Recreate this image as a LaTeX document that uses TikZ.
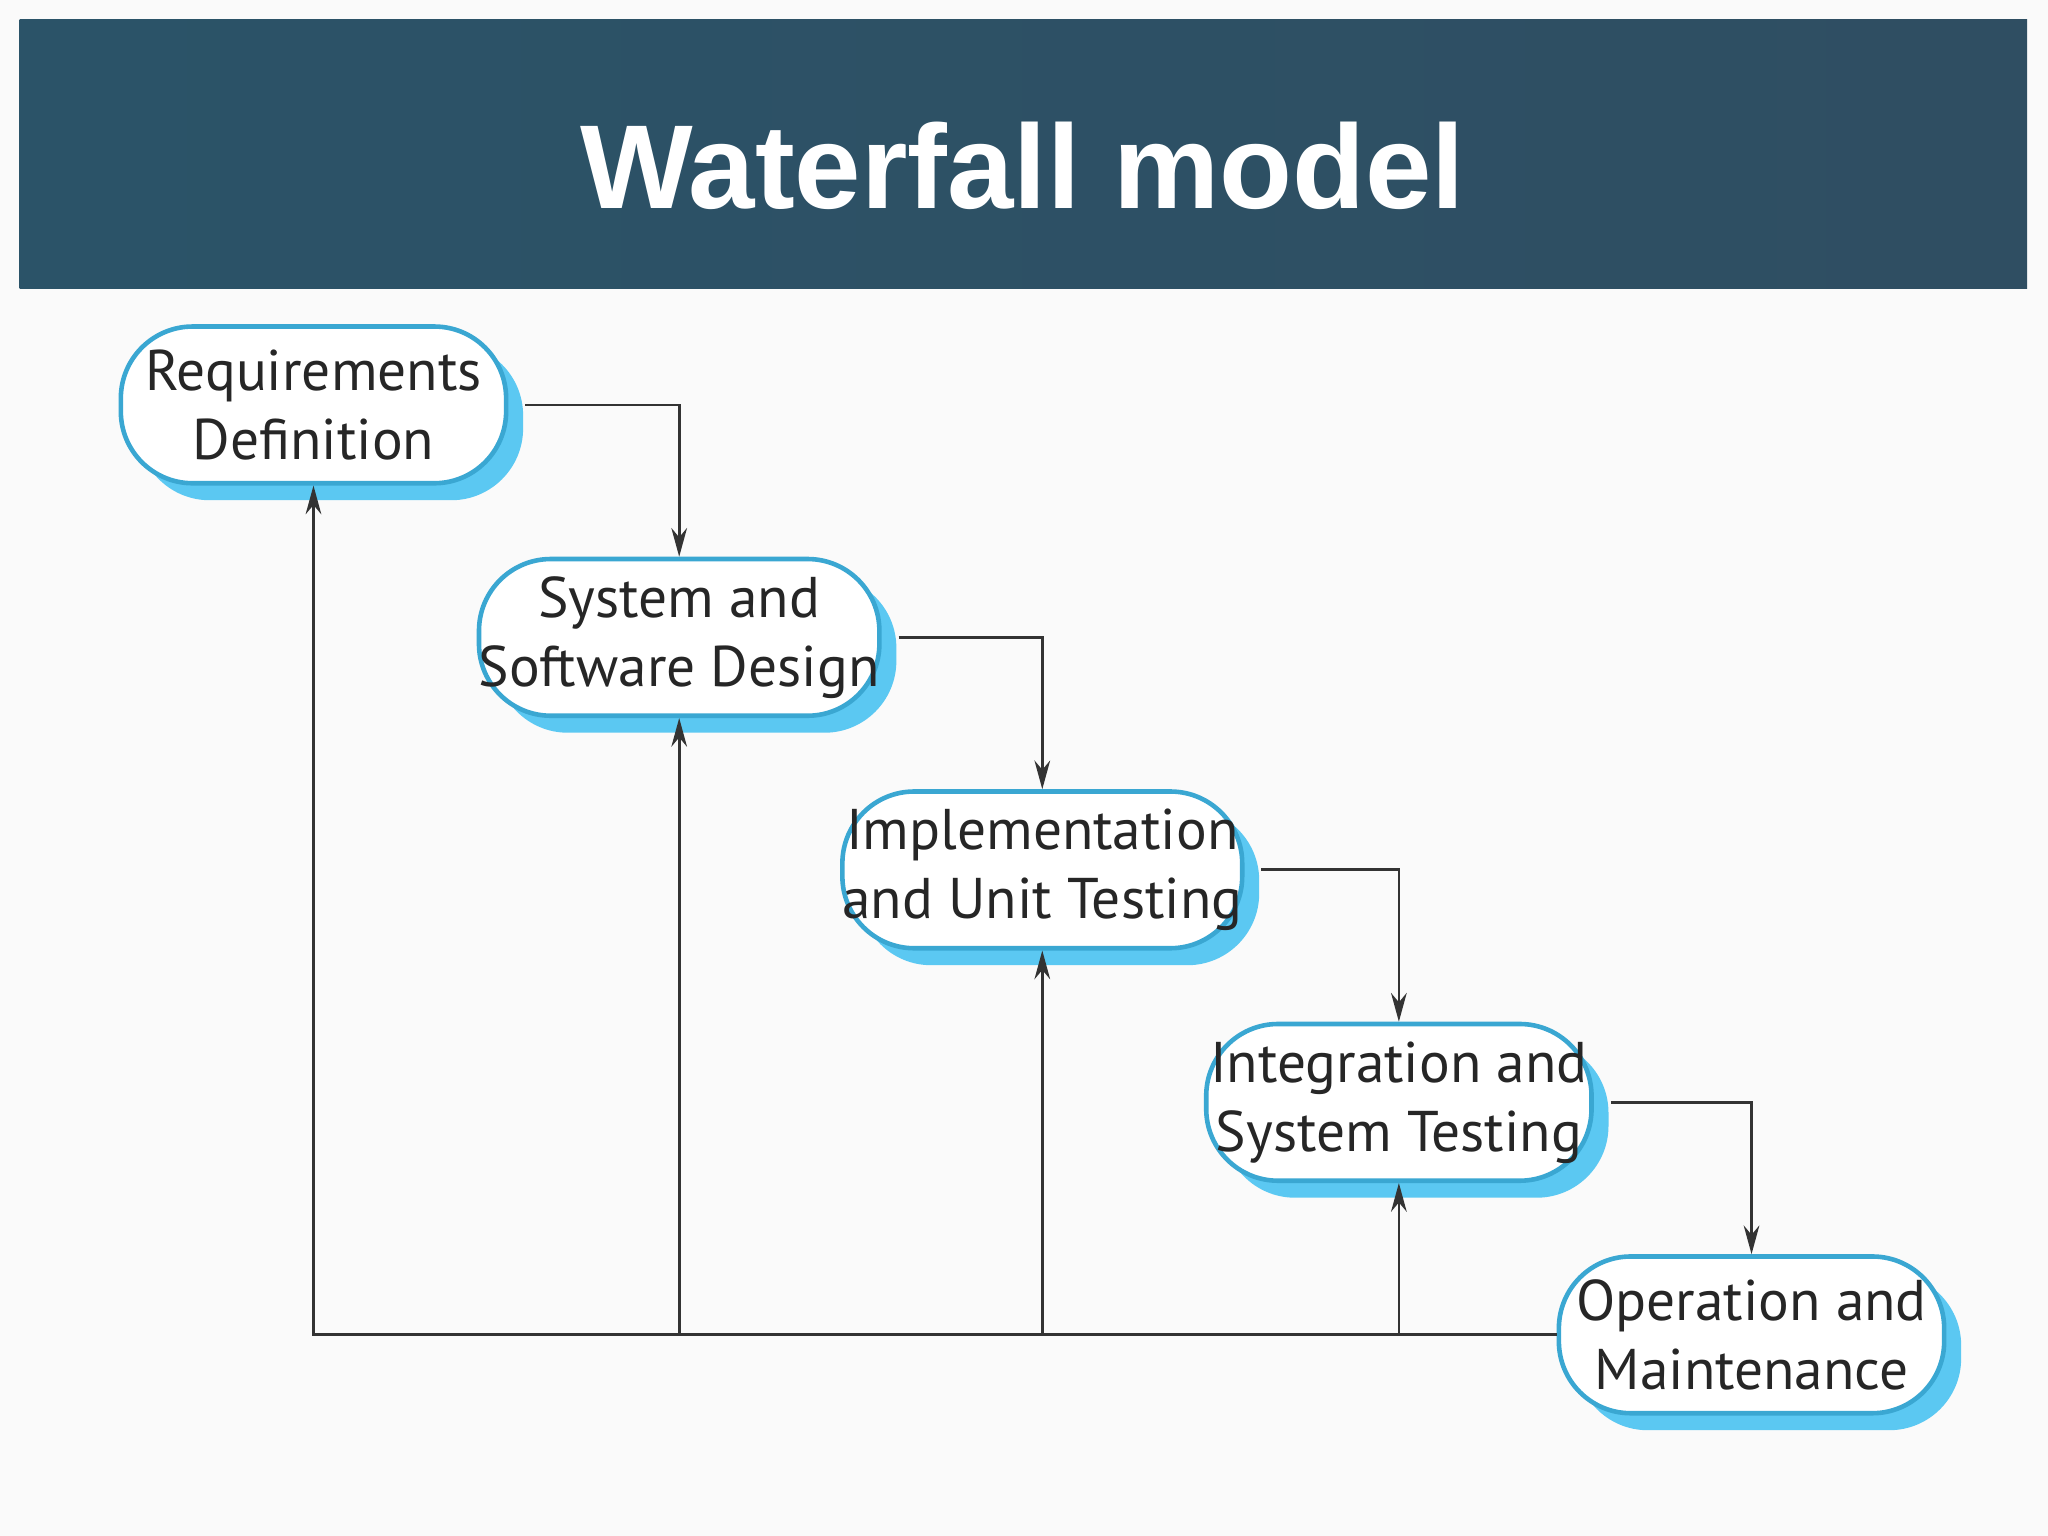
\documentclass[tikz,border=0pt]{standalone}
\usepackage{fontspec}
\setmainfont{PT Sans}
\newfontfamily\titlefont{Liberation Sans}
\usetikzlibrary{arrows.meta,shadows}
\definecolor{boxline}{HTML}{3AA7D2}
\definecolor{boxshade}{HTML}{5BC8F2}
\definecolor{bandleft}{HTML}{2B5368}
\definecolor{bandright}{HTML}{2F4E62}
\definecolor{wire}{HTML}{333333}

\tikzset{
  phase/.style={draw=boxline, line width=1pt, fill=white, rounded corners=0.55cm,
    minimum width=2.95cm, minimum height=1.2cm, align=center, inner sep=0pt,
    font=\fontsize{12.5}{15}\selectfont, text=black!85,
    drop shadow={shadow xshift=0.13cm, shadow yshift=-0.13cm, fill=boxshade, opacity=1}},
  flow/.style={draw=wire, line width=0.6pt, -{Stealth[length=0.22cm,width=0.12cm]}},
}

\begin{document}
\begin{tikzpicture}
  \useasboundingbox[fill=black!2] (0,0) rectangle (15.68,-11.76);
  % title band
  \shade[left color=bandleft, right color=bandright] (0.15,-0.15) rectangle (15.52,-2.21);
  \node (title) at (7.83,-1.27) {\titlefont\bfseries\fontsize{26}{30}\selectfont\color{white}Waterfall model};

  % phases
  \node[phase] (req) at (2.40,-3.10) {Requirements\\Definition};
  \node[phase] (sys) at (5.20,-4.88) {System and\\Software Design};
  \node[phase] (imp) at (7.98,-6.66) {Implementation\\and Unit Testing};
  \node[phase] (int) at (10.71,-8.44) {Integration and\\System Testing};
  \node[phase] (ops) at (13.41,-10.22) {Operation and\\Maintenance};

  % forward steps
  \draw[flow, shorten <=0.13cm] (req.east) -| (sys.north);
  \draw[flow, shorten <=0.13cm] (sys.east) -| (imp.north);
  \draw[flow, shorten <=0.13cm] (imp.east) -| (int.north);
  \draw[flow, shorten <=0.13cm] (int.east) -| (ops.north);

  % feedback
  \draw[flow] (ops.west) -| (req.south);
  \draw[flow] (sys.south |- ops.west) -- (sys.south);
  \draw[flow] (imp.south |- ops.west) -- (imp.south);
  \draw[flow] (int.south |- ops.west) -- (int.south);
\end{tikzpicture}
\end{document}
